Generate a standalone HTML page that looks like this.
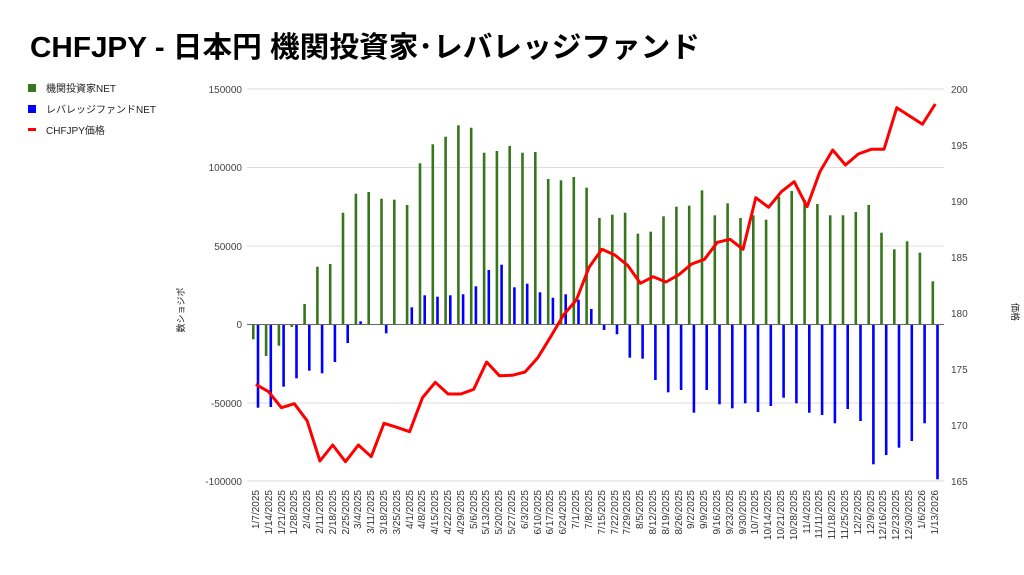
<!DOCTYPE html>
<html><head><meta charset="utf-8"><style>
body{margin:0;background:#fff;width:1024px;height:570px;overflow:hidden;font-family:"Liberation Sans","Noto Sans CJK JP",sans-serif}
svg text{font-family:"Liberation Sans","Noto Sans CJK JP",sans-serif}
</style></head><body>
<svg width="1024" height="570" xmlns="http://www.w3.org/2000/svg">
<text x="30" y="57" font-size="29" font-weight="bold" fill="#000" textLength="670" lengthAdjust="spacingAndGlyphs">CHFJPY - 日本円 機関投資家･レバレッジファンド</text>
<rect x="28" y="84" width="8" height="8" fill="#38761d"/><text x="46" y="92" font-size="10" fill="#222">機関投資家NET</text>
<rect x="28" y="105" width="8" height="8" fill="#0000ff"/><text x="46" y="113" font-size="10" fill="#222">レバレッジファンドNET</text>
<rect x="28" y="128" width="8" height="3" fill="#ff0000"/><text x="46" y="134" font-size="10" fill="#222">CHFJPY価格</text>
<g stroke="#ddd" stroke-width="1">
<line x1="247" y1="89" x2="944" y2="89"/><line x1="247" y1="167.5" x2="944" y2="167.5"/><line x1="247" y1="246" x2="944" y2="246"/><line x1="247" y1="403" x2="944" y2="403"/><line x1="247" y1="481" x2="944" y2="481"/>
</g>
<g font-size="10" fill="#444" text-anchor="end">
<text x="242" y="93">150000</text><text x="242" y="171">100000</text><text x="242" y="250">50000</text><text x="242" y="328">0</text><text x="242" y="407">-50000</text><text x="242" y="485">-100000</text>
</g>
<g font-size="10" fill="#444">
<text x="951" y="93">200</text><text x="951" y="149">195</text><text x="951" y="205">190</text><text x="951" y="261">185</text><text x="951" y="317">180</text><text x="951" y="373">175</text><text x="951" y="429">170</text><text x="951" y="485">165</text>
</g>
<text font-size="9" fill="#222" transform="translate(184,310) rotate(-90)" text-anchor="middle">数ショジポ</text>
<text font-size="9" fill="#222" transform="translate(1012,312) rotate(90)" text-anchor="middle">価格</text>
<g fill="#38761d">
<rect x="252" y="324.5" width="2.6" height="14.8"/><rect x="264.8" y="324.5" width="2.6" height="31.5"/><rect x="277.6" y="324.5" width="2.6" height="21.2"/><rect x="290.5" y="324.5" width="2.6" height="2.5"/><rect x="303.3" y="304" width="2.6" height="20.5"/><rect x="316.1" y="266.7" width="2.6" height="57.8"/><rect x="328.9" y="264" width="2.6" height="60.5"/><rect x="341.7" y="212.7" width="2.6" height="111.8"/><rect x="354.6" y="193.7" width="2.6" height="130.8"/><rect x="367.4" y="192" width="2.6" height="132.5"/><rect x="380.2" y="198.7" width="2.6" height="125.8"/><rect x="393" y="199.7" width="2.6" height="124.8"/><rect x="405.8" y="205" width="2.6" height="119.5"/><rect x="418.7" y="163.3" width="2.6" height="161.2"/><rect x="431.5" y="144.3" width="2.6" height="180.2"/><rect x="444.3" y="136.7" width="2.6" height="187.8"/><rect x="457.1" y="125.3" width="2.6" height="199.2"/><rect x="469.9" y="127.7" width="2.6" height="196.8"/><rect x="482.8" y="152.7" width="2.6" height="171.8"/><rect x="495.6" y="151" width="2.6" height="173.5"/><rect x="508.4" y="146" width="2.6" height="178.5"/><rect x="521.2" y="152.7" width="2.6" height="171.8"/><rect x="534" y="152" width="2.6" height="172.5"/><rect x="546.9" y="179" width="2.6" height="145.5"/><rect x="559.7" y="180.3" width="2.6" height="144.2"/><rect x="572.5" y="177" width="2.6" height="147.5"/><rect x="585.3" y="187.7" width="2.6" height="136.8"/><rect x="598.1" y="218" width="2.6" height="106.5"/><rect x="611" y="214.7" width="2.6" height="109.8"/><rect x="623.8" y="212.7" width="2.6" height="111.8"/><rect x="636.6" y="233.7" width="2.6" height="90.8"/><rect x="649.4" y="231.7" width="2.6" height="92.8"/><rect x="662.2" y="216.3" width="2.6" height="108.2"/><rect x="675.1" y="206.7" width="2.6" height="117.8"/><rect x="687.9" y="205.7" width="2.6" height="118.8"/><rect x="700.7" y="190.3" width="2.6" height="134.2"/><rect x="713.5" y="215.3" width="2.6" height="109.2"/><rect x="726.3" y="203.3" width="2.6" height="121.2"/><rect x="739.2" y="218" width="2.6" height="106.5"/><rect x="752" y="215.3" width="2.6" height="109.2"/><rect x="764.8" y="219.7" width="2.6" height="104.8"/><rect x="777.6" y="196.7" width="2.6" height="127.8"/><rect x="790.4" y="191" width="2.6" height="133.5"/><rect x="803.3" y="200" width="2.6" height="124.5"/><rect x="816.1" y="204" width="2.6" height="120.5"/><rect x="828.9" y="215.3" width="2.6" height="109.2"/><rect x="841.7" y="215.3" width="2.6" height="109.2"/><rect x="854.5" y="212" width="2.6" height="112.5"/><rect x="867.4" y="205" width="2.6" height="119.5"/><rect x="880.2" y="232.7" width="2.6" height="91.8"/><rect x="893" y="249.3" width="2.6" height="75.2"/><rect x="905.8" y="241.3" width="2.6" height="83.2"/><rect x="918.6" y="252.7" width="2.6" height="71.8"/><rect x="931.5" y="281.3" width="2.6" height="43.2"/>
</g>
<g fill="#0000ff">
<rect x="256.7" y="324.5" width="2.6" height="83.2"/><rect x="269.5" y="324.5" width="2.6" height="82.5"/><rect x="282.3" y="324.5" width="2.6" height="62.2"/><rect x="295.2" y="324.5" width="2.6" height="53.8"/><rect x="308" y="324.5" width="2.6" height="46.2"/><rect x="320.8" y="324.5" width="2.6" height="48.8"/><rect x="333.6" y="324.5" width="2.6" height="37.5"/><rect x="346.4" y="324.5" width="2.6" height="18.5"/><rect x="359.3" y="321.3" width="2.6" height="3.2"/><rect x="384.9" y="324.5" width="2.6" height="8.8"/><rect x="410.5" y="307.3" width="2.6" height="17.2"/><rect x="423.4" y="295.3" width="2.6" height="29.2"/><rect x="436.2" y="296.7" width="2.6" height="27.8"/><rect x="449" y="295.3" width="2.6" height="29.2"/><rect x="461.8" y="294.3" width="2.6" height="30.2"/><rect x="474.6" y="286.3" width="2.6" height="38.2"/><rect x="487.5" y="270" width="2.6" height="54.5"/><rect x="500.3" y="264.7" width="2.6" height="59.8"/><rect x="513.1" y="287.3" width="2.6" height="37.2"/><rect x="525.9" y="283.7" width="2.6" height="40.8"/><rect x="538.7" y="292.3" width="2.6" height="32.2"/><rect x="551.6" y="297.7" width="2.6" height="26.8"/><rect x="564.4" y="294.3" width="2.6" height="30.2"/><rect x="577.2" y="299.7" width="2.6" height="24.8"/><rect x="590" y="309" width="2.6" height="15.5"/><rect x="602.8" y="324.5" width="2.6" height="5.5"/><rect x="615.7" y="324.5" width="2.6" height="9.8"/><rect x="628.5" y="324.5" width="2.6" height="33.2"/><rect x="641.3" y="324.5" width="2.6" height="34.2"/><rect x="654.1" y="324.5" width="2.6" height="55.5"/><rect x="666.9" y="324.5" width="2.6" height="67.8"/><rect x="679.8" y="324.5" width="2.6" height="65.5"/><rect x="692.6" y="324.5" width="2.6" height="88.2"/><rect x="705.4" y="324.5" width="2.6" height="65.5"/><rect x="718.2" y="324.5" width="2.6" height="79.8"/><rect x="731" y="324.5" width="2.6" height="83.8"/><rect x="743.9" y="324.5" width="2.6" height="78.8"/><rect x="756.7" y="324.5" width="2.6" height="87.5"/><rect x="769.5" y="324.5" width="2.6" height="81.5"/><rect x="782.3" y="324.5" width="2.6" height="73.2"/><rect x="795.1" y="324.5" width="2.6" height="78.8"/><rect x="808" y="324.5" width="2.6" height="88.2"/><rect x="820.8" y="324.5" width="2.6" height="90.5"/><rect x="833.6" y="324.5" width="2.6" height="98.8"/><rect x="846.4" y="324.5" width="2.6" height="84.5"/><rect x="859.2" y="324.5" width="2.6" height="96.5"/><rect x="872.1" y="324.5" width="2.6" height="139.8"/><rect x="884.9" y="324.5" width="2.6" height="130.5"/><rect x="897.7" y="324.5" width="2.6" height="123.2"/><rect x="910.5" y="324.5" width="2.6" height="116.5"/><rect x="923.3" y="324.5" width="2.6" height="98.8"/><rect x="936.2" y="324.5" width="2.6" height="154.8"/>
</g>
<line x1="247" y1="324.5" x2="944" y2="324.5" stroke="#666" stroke-width="1"/>
<polyline fill="none" stroke="#ff0000" stroke-width="3" stroke-linejoin="round" points="255.8,384.3 268.6,391.7 281.4,407.7 294.3,403.7 307.1,420.7 319.9,461 332.7,445 345.5,461.7 358.4,445 371.2,456.7 384,423.3 396.8,427.3 409.6,431.7 422.5,397.7 435.3,382.3 448.1,394 460.9,394 473.7,389.3 486.6,362 499.4,375.7 512.2,375.3 525,372 537.8,357.7 550.7,336.7 563.5,315 576.3,300 589.1,267.3 601.9,249.3 614.8,255 627.6,265.3 640.4,283.3 653.2,276.7 666,282 678.9,274.7 691.7,264 704.5,259.3 717.3,242.3 730.1,239.3 743,249.3 755.8,197.7 768.6,207.3 781.4,191.7 794.2,181.7 807.1,206.7 819.9,171.7 832.7,150 845.5,165 858.3,154 871.2,149.3 884,149.3 896.8,107.7 909.6,116 922.4,124.3 935.3,104"/>
<g font-size="10" fill="#333" text-anchor="end">
<text transform="translate(259,490) rotate(-90)">1/7/2025</text><text transform="translate(272,490) rotate(-90)">1/14/2025</text><text transform="translate(285,490) rotate(-90)">1/21/2025</text><text transform="translate(297,490) rotate(-90)">1/28/2025</text><text transform="translate(310,490) rotate(-90)">2/4/2025</text><text transform="translate(323,490) rotate(-90)">2/11/2025</text><text transform="translate(336,490) rotate(-90)">2/18/2025</text><text transform="translate(349,490) rotate(-90)">2/25/2025</text><text transform="translate(361,490) rotate(-90)">3/4/2025</text><text transform="translate(374,490) rotate(-90)">3/11/2025</text><text transform="translate(387,490) rotate(-90)">3/18/2025</text><text transform="translate(400,490) rotate(-90)">3/25/2025</text><text transform="translate(413,490) rotate(-90)">4/1/2025</text><text transform="translate(425,490) rotate(-90)">4/8/2025</text><text transform="translate(438,490) rotate(-90)">4/15/2025</text><text transform="translate(451,490) rotate(-90)">4/22/2025</text><text transform="translate(464,490) rotate(-90)">4/29/2025</text><text transform="translate(477,490) rotate(-90)">5/6/2025</text><text transform="translate(489,490) rotate(-90)">5/13/2025</text><text transform="translate(502,490) rotate(-90)">5/20/2025</text><text transform="translate(515,490) rotate(-90)">5/27/2025</text><text transform="translate(528,490) rotate(-90)">6/3/2025</text><text transform="translate(541,490) rotate(-90)">6/10/2025</text><text transform="translate(553,490) rotate(-90)">6/17/2025</text><text transform="translate(566,490) rotate(-90)">6/24/2025</text><text transform="translate(579,490) rotate(-90)">7/1/2025</text><text transform="translate(592,490) rotate(-90)">7/8/2025</text><text transform="translate(605,490) rotate(-90)">7/15/2025</text><text transform="translate(618,490) rotate(-90)">7/22/2025</text><text transform="translate(630,490) rotate(-90)">7/29/2025</text><text transform="translate(643,490) rotate(-90)">8/5/2025</text><text transform="translate(656,490) rotate(-90)">8/12/2025</text><text transform="translate(669,490) rotate(-90)">8/19/2025</text><text transform="translate(682,490) rotate(-90)">8/26/2025</text><text transform="translate(694,490) rotate(-90)">9/2/2025</text><text transform="translate(707,490) rotate(-90)">9/9/2025</text><text transform="translate(720,490) rotate(-90)">9/16/2025</text><text transform="translate(733,490) rotate(-90)">9/23/2025</text><text transform="translate(746,490) rotate(-90)">9/30/2025</text><text transform="translate(758,490) rotate(-90)">10/7/2025</text><text transform="translate(771,490) rotate(-90)">10/14/2025</text><text transform="translate(784,490) rotate(-90)">10/21/2025</text><text transform="translate(797,490) rotate(-90)">10/28/2025</text><text transform="translate(810,490) rotate(-90)">11/4/2025</text><text transform="translate(822,490) rotate(-90)">11/11/2025</text><text transform="translate(835,490) rotate(-90)">11/18/2025</text><text transform="translate(848,490) rotate(-90)">11/25/2025</text><text transform="translate(861,490) rotate(-90)">12/2/2025</text><text transform="translate(874,490) rotate(-90)">12/9/2025</text><text transform="translate(886,490) rotate(-90)">12/16/2025</text><text transform="translate(899,490) rotate(-90)">12/23/2025</text><text transform="translate(912,490) rotate(-90)">12/30/2025</text><text transform="translate(925,490) rotate(-90)">1/6/2026</text><text transform="translate(938,490) rotate(-90)">1/13/2026</text>
</g>
</svg>
</body></html>
